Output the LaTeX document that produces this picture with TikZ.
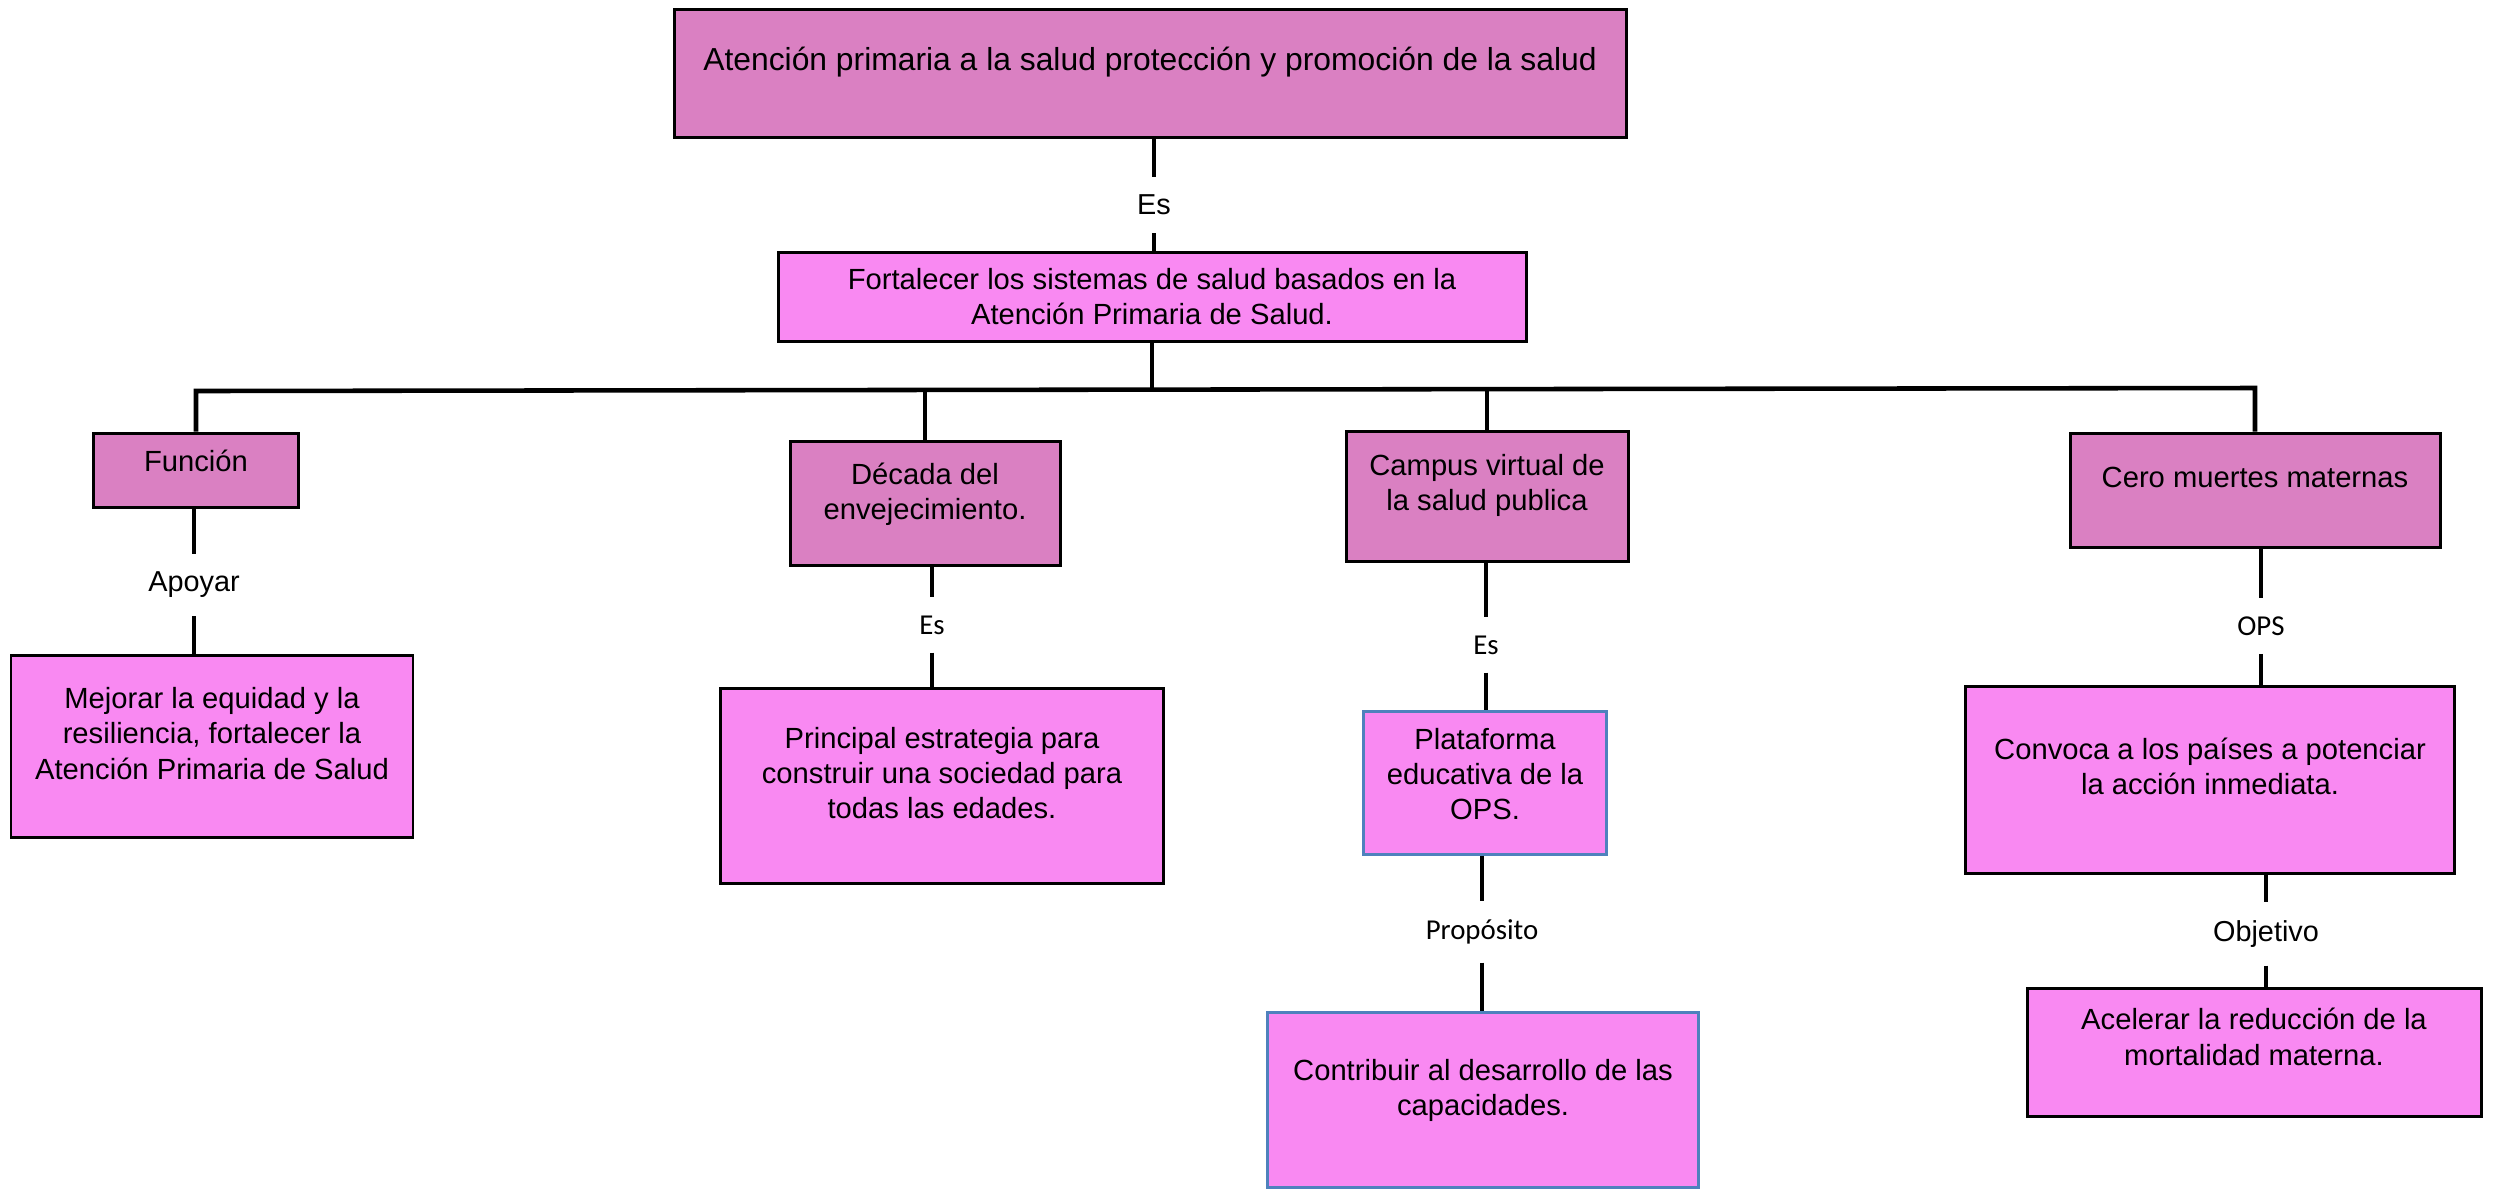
\documentclass[tikz,border=0pt]{standalone}
\usepackage{fontspec}
\setmainfont{Liberation Sans}
\newfontfamily\carlitofont{Carlito}
\usepackage{xcolor}
\usepackage{tikz}
\usetikzlibrary{positioning}
\definecolor{orchidbox}{RGB}{218,128,194}
\definecolor{pinkbox}{RGB}{249,137,242}
\definecolor{blueline}{RGB}{79,129,189}
\tikzset{
	topic/.style={draw=black, line width=0.85pt, fill=orchidbox, inner sep=0pt, align=center, font=\fontsize{8.3}{10}\selectfont},
	detail/.style={draw=black, line width=0.85pt, fill=pinkbox, inner sep=0pt, align=center, font=\fontsize{8.3}{10}\selectfont},
	blueframe/.style={draw=blueline, line width=0.6pt},
	boxsize/.style 2 args={minimum width=#1*0.01cm, minimum height=#2*0.01cm},
	linkword/.style={inner xsep=2pt, inner ysep=5pt, font=\fontsize{8.2}{10}\selectfont},
	linkwordc/.style={inner xsep=2pt, inner ysep=5pt, font=\fontsize{8.2}{10}\selectfont\carlitofont},
	link/.style={line width=1.05pt},
	bus/.style={line width=1.3pt}
}
\newcommand{\boxtext}[2][2.8pt]{\raisebox{#1}[\height][\depth]{\begin{tabular}{@{}c@{}}#2\end{tabular}}}
\newcommand{\linkvia}[3]{
	\draw[link] (#2.north |- #1.south) -- (#2.north);
	\draw[link] (#2.south) -- (#2.south |- #3.north);
}

\begin{document}
\begin{tikzpicture}[x=0.01cm, y=-0.01cm]
	\useasboundingbox (0,0) rectangle (2505,1190);

	% Main topic is drawn.
	\node[topic, boxsize={952}{128}, font=\fontsize{9.05}{11}\selectfont] (atencion) at (1150,73) {\boxtext{Atención primaria a la salud protección y promoción de la salud}};
	\node[linkword] (es-main) at (1154,205) {Es};
	\node[detail, boxsize={748}{89}] (fortalecer) at (1152,297) {\boxtext[-0.8pt]{Fortalecer los sistemas de salud basados en la \\ Atención Primaria de Salud.}};
	\linkvia{atencion}{es-main}{fortalecer}

	% Second level.
	\node[topic, boxsize={205}{74}] (funcion) at (196,470) {\boxtext[1.6pt]{Función}};
	\node[topic, boxsize={270}{124}] (decada) at (925,503) {\boxtext[2.4pt]{Década del \\ envejecimiento.}};
	\node[topic, boxsize={282}{130}] (campus) at (1487,496) {\boxtext[2.8pt]{Campus virtual de \\ la salud publica}};
	\node[topic, boxsize={370}{114}] (cero) at (2255,490) {\boxtext[2.8pt]{Cero muertes maternas}};

	\coordinate (bus-left) at (196,391);
	\coordinate (bus-right) at (2255,388);
	\draw[link] (fortalecer.south) -- (fortalecer.south |- bus-left);
	\draw[bus] (funcion.north) -- (bus-left) -- (bus-right) -- (cero.north);
	\draw[link] (decada.north) -- (decada.north |- bus-left);
	\draw[link] (campus.north) -- (campus.north |- bus-left);

	% Third level.
	\node[detail, boxsize={402}{182}] (mejorar) at (212,746) {\boxtext[2.6pt]{Mejorar la equidad y la \\ resiliencia, fortalecer la \\ Atención Primaria de Salud}};
	\node[detail, boxsize={443}{195}] (principal) at (942,786) {\boxtext[2.7pt]{Principal estrategia para \\ construir una sociedad para \\ todas las edades.}};
	\node[detail, blueframe, boxsize={243}{143}] (plataforma) at (1485,783) {\boxtext[1.6pt]{Plataforma \\ educativa de la \\ OPS.}};
	\node[detail, boxsize={489}{187}] (convoca) at (2210,780) {\boxtext[2.8pt]{Convoca a los países a potenciar \\ la acción inmediata.}};

	\node[linkword] (apoyar) at (194,585) {Apoyar};
	\node[linkwordc] (es-decada) at (932,625) {Es};
	\node[linkwordc] (es-campus) at (1486,645) {Es};
	\node[linkwordc] (ops) at (2261,626) {OPS};
	\linkvia{funcion}{apoyar}{mejorar}
	\linkvia{decada}{es-decada}{principal}
	\linkvia{campus}{es-campus}{plataforma}
	\linkvia{cero}{ops}{convoca}

	% Fourth level.
	\node[detail, blueframe, boxsize={431}{175}] (contribuir) at (1483,1100) {\boxtext[2.6pt]{Contribuir al desarrollo de las \\ capacidades.}};
	\node[detail, boxsize={454}{128}] (acelerar) at (2254,1052) {\boxtext[3.3pt]{Acelerar la reducción de la \\ mortalidad materna.}};

	\node[linkwordc] (proposito) at (1482,932) {Propósito};
	\node[linkword] (objetivo) at (2266,934) {Objetivo};
	\linkvia{plataforma}{proposito}{contribuir}
	\linkvia{convoca}{objetivo}{acelerar}
\end{tikzpicture}
\end{document}
